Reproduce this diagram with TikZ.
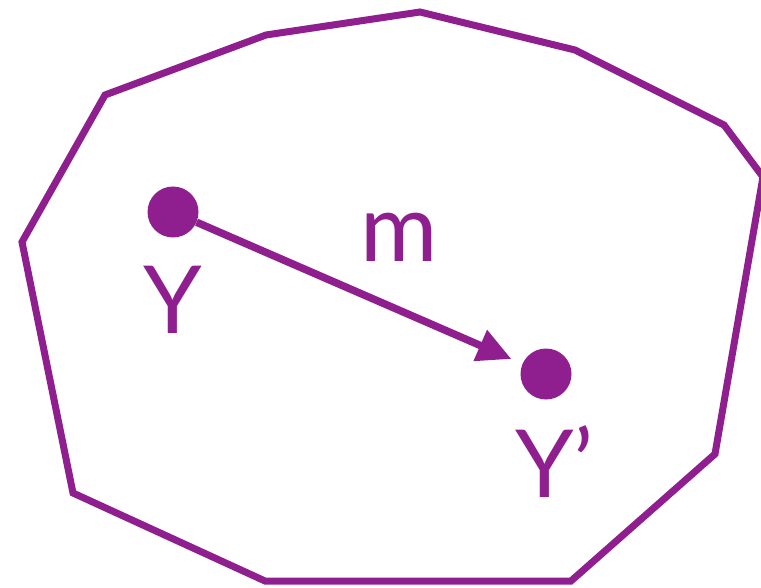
\documentclass[tikz,border=0pt]{standalone}
\usepackage{fontspec}
\setmainfont{Lato}
\usetikzlibrary{arrows.meta}
\definecolor{pur}{RGB}{143,31,143}
\begin{document}
\begin{tikzpicture}[x=1pt,y=-1pt,
  outline/.style={draw=pur,line width=7pt,line join=miter},
  dot/.style={circle,fill=pur,inner sep=0pt,minimum size=51pt},
  lbl/.style={text=pur,font=\fontsize{94}{94}\selectfont,inner sep=0pt},
  arr/.style={draw=pur,line width=7.5pt,-{Triangle[length=34pt,width=32pt]},shorten >=12pt}]
\useasboundingbox (0,0) rectangle (761,588);
\draw[outline] (105,95) -- (266,35) -- (420,12) -- (575,50) -- (724,125) -- (763,177) -- (715,454) -- (571,581) -- (265,581) -- (73,493) -- (22,242) -- cycle;
\node[dot] (d1) at (173,212) {};
\node[dot] (d2) at (546,374) {};
\draw[arr] (d1) -- (d2);
\node[lbl,anchor=base] (y1) at (173,334) {Y};
\node[lbl,anchor=base west] (y2) at (515,497) {Y’};
\node[lbl,anchor=base] (m) at (399,262) {m};
\end{tikzpicture}
\end{document}
